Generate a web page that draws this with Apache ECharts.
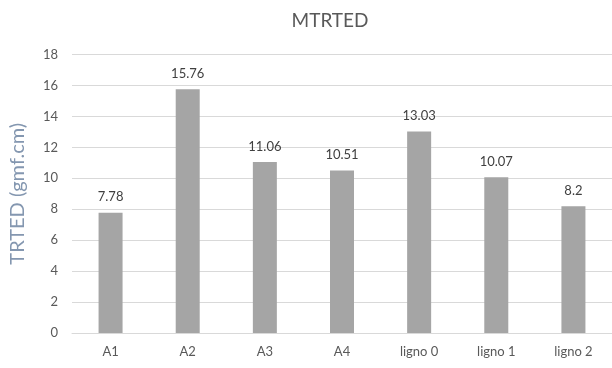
<!DOCTYPE html>
<html>
<head>
<meta charset="utf-8">
<script src="https://cdn.jsdelivr.net/npm/echarts@6/dist/echarts.min.js"></script>
<style>
  html, body { margin: 0; padding: 0; background: #fff; }
  #chart { width: 612px; height: 368px; }
</style>
</head>
<body>
<div id="chart"></div>
<script>
// Torque values per sample
const categories = ['A1', 'A2', 'A3', 'A4', 'ligno 0', 'ligno 1', 'ligno 2'];
const trtedValues = [7.78, 15.76, 11.06, 10.51, 13.03, 10.07, 8.2];
const yTicks = [0, 2, 4, 6, 8, 10, 12, 14, 16, 18];

const FONT = 'Lato, "Open Sans", sans-serif';

const chart = echarts.init(document.getElementById('chart'), null, { renderer: 'canvas' });
chart.setOption({
  animation: false,
  backgroundColor: '#ffffff',
  title: {
    text: 'MTRTED',
    left: 325,
    textAlign: 'center',
    top: 6,
    textStyle: { color: '#595959', fontSize: 19, fontWeight: 'normal', fontFamily: FONT }
  },
  grid: { left: 70, right: -2, top: 54.5, bottom: 35 },
  xAxis: {
    type: 'category',
    data: categories,
    axisLine: { show: true, lineStyle: { color: '#d9d9d9', width: 1 } },
    axisTick: { show: false },
    axisLabel: { color: '#595959', fontSize: 13, fontFamily: FONT, margin: 12 }
  },
  yAxis: {
    type: 'value',
    min: yTicks[0],
    max: yTicks[yTicks.length - 1],
    interval: 2,
    name: 'TRTED (gmf.cm)',
    nameLocation: 'middle',
    nameGap: 44,
    nameTextStyle: { color: '#8497b0', fontSize: 20, fontFamily: FONT },
    axisLine: { show: false },
    axisTick: { show: false },
    axisLabel: { color: '#595959', fontSize: 13, fontFamily: FONT, margin: 14 },
    splitLine: { lineStyle: { color: '#d9d9d9', width: 1 } }
  },
  series: [{
    type: 'bar',
    data: trtedValues,
    barWidth: 24,
    itemStyle: { color: '#a5a5a5' },
    label: {
      show: true,
      position: 'top',
      distance: 9,
      color: '#404040',
      fontSize: 13,
      fontFamily: FONT
    }
  }]
});
</script>
</body>
</html>
